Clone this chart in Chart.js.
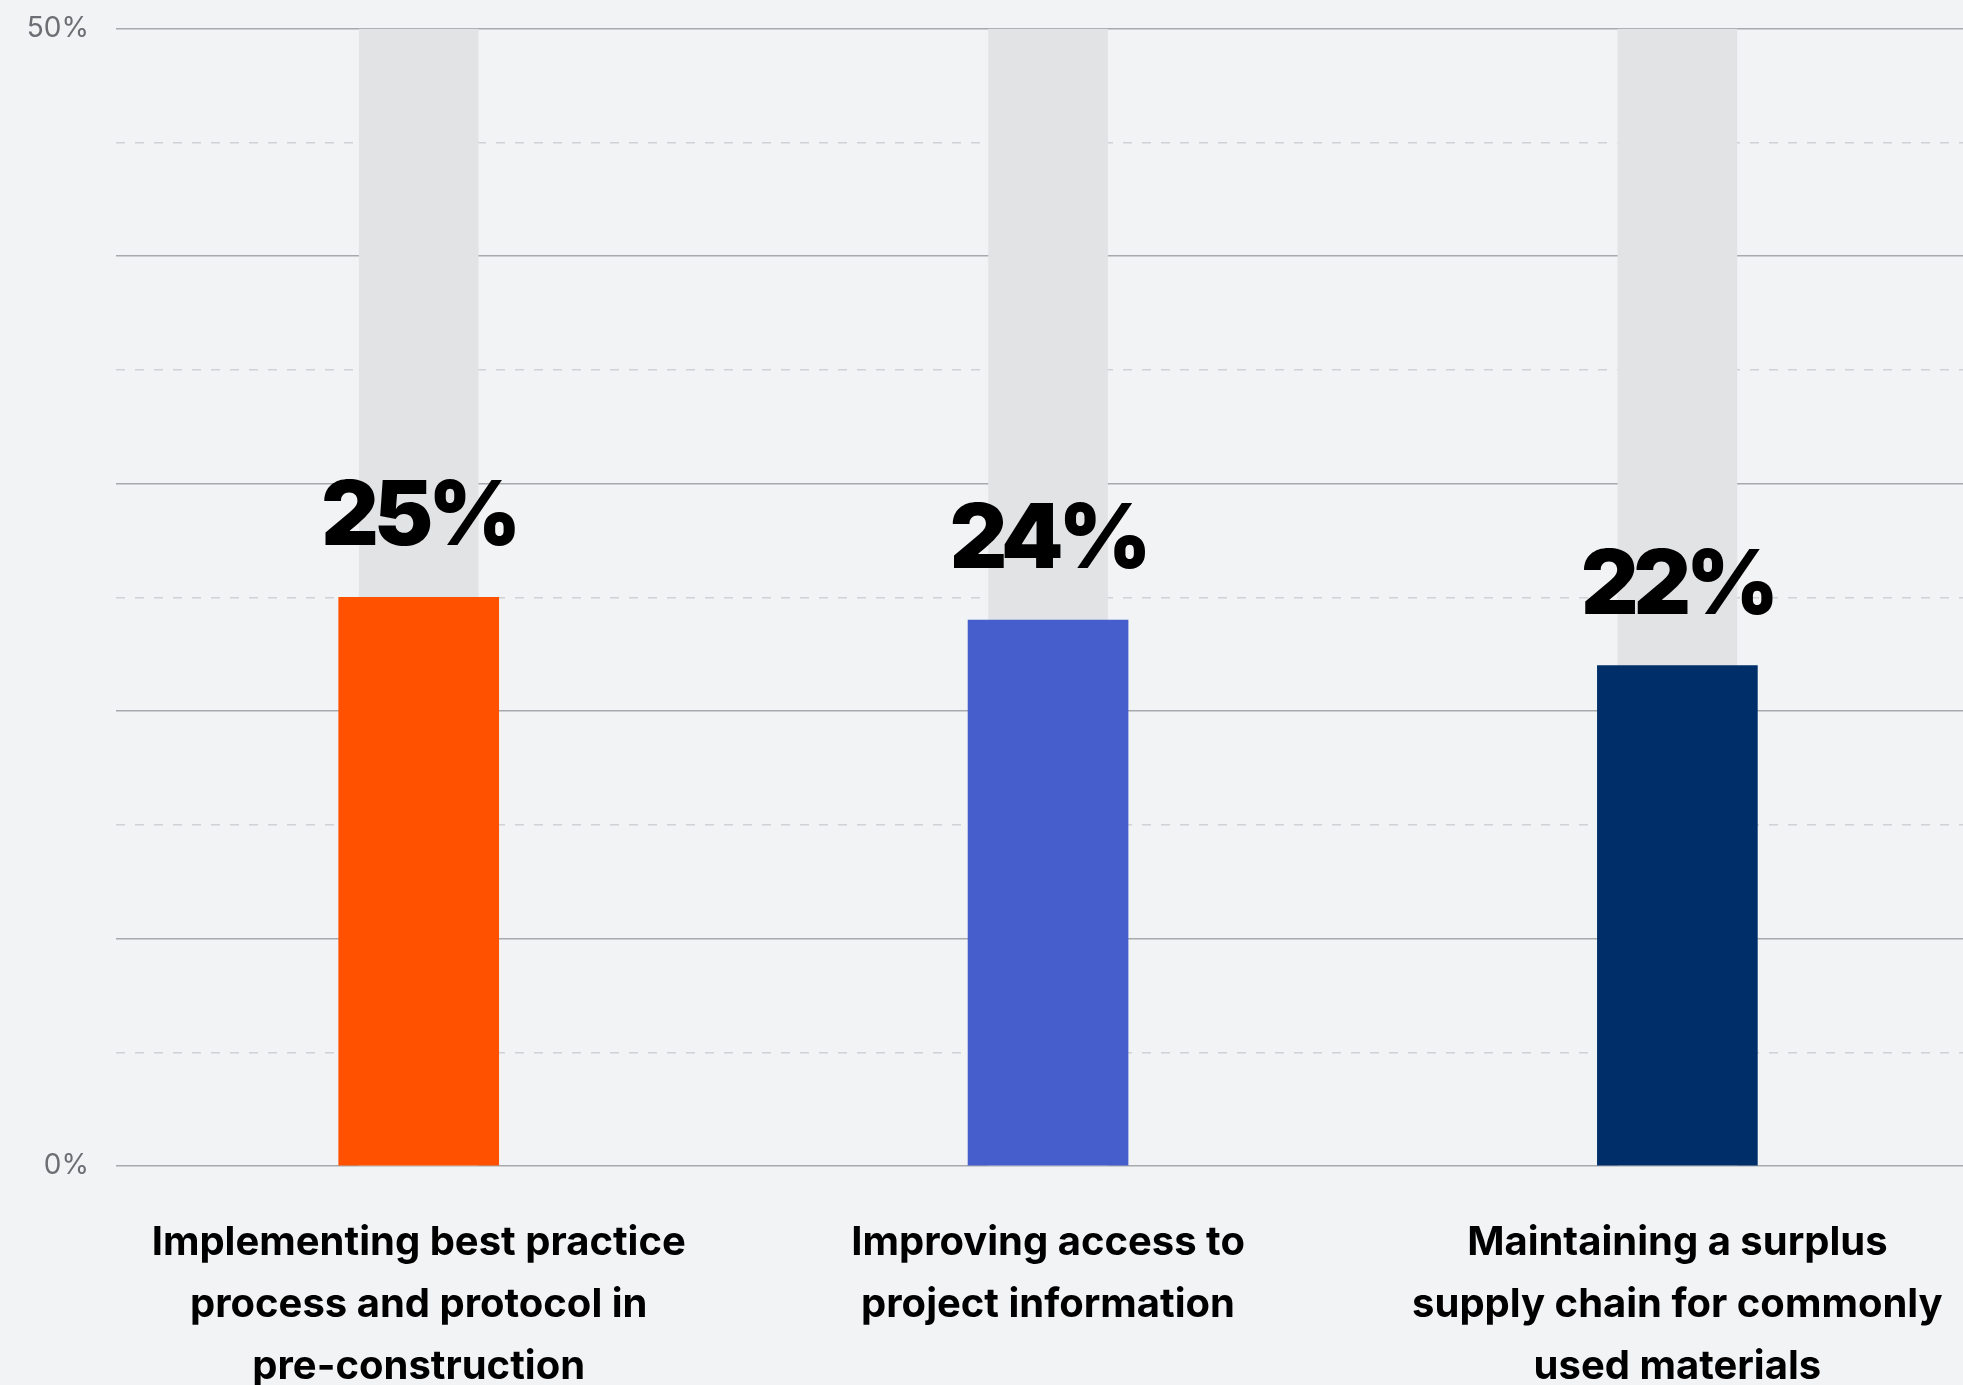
<!DOCTYPE html>
<html>
<head>
<meta charset="utf-8">
<script src="https://cdn.jsdelivr.net/npm/chart.js@4/dist/chart.umd.min.js"></script>
<style>
  html, body { margin: 0; padding: 0; overflow: hidden; background: #f2f3f5; }
  #wrap { position: absolute; left: 0; top: 0; }
</style>
</head>
<body>
<div id="wrap"><canvas id="chart" width="2004" height="1436"></canvas></div>
<script>
const categories = [
    ['Implementing best practice', 'process and protocol in', 'pre-construction'],
    ['Improving access to', 'project information'],
    ['Maintaining a surplus', 'supply chain for commonly', 'used materials']
];
const shares = [25, 24, 22];
const trackMax = [50, 50, 50];
const barColors = ['#ff5100', '#465ecb', '#002e69'];
const axisMin = 0;
const axisMax = 50;

// big percentage over each coloured bar
const valueLabels = {
    id: 'valueLabels',
    afterDatasetsDraw(chart) {
        const ctx = chart.ctx;
        const meta = chart.getDatasetMeta(0);
        ctx.save();
        ctx.font = '900 89px Inter, "Noto Sans", sans-serif';
        ctx.letterSpacing = '-5px';
        ctx.fillStyle = '#000';
        ctx.textAlign = 'center';
        ctx.textBaseline = 'alphabetic';
        meta.data.forEach(function (bar, i) {
            ctx.fillText(shares[i] + '%', bar.x, bar.y - 52);
        });
        ctx.restore();
    }
};

new Chart(document.getElementById('chart'), {
    type: 'bar',
    data: {
        labels: categories,
        datasets: [
            {
                label: 'Share',
                data: shares,
                backgroundColor: barColors,
                barThickness: 160,
                grouped: false,
                order: 0
            },
            {
                label: 'Track',
                data: trackMax,
                backgroundColor: '#e2e3e5',
                barThickness: 119,
                grouped: false,
                order: 1
            }
        ]
    },
    options: {
        responsive: false,
        devicePixelRatio: 1,
        animation: false,
        layout: { padding: 0 },
        plugins: {
            legend: { display: false },
            tooltip: { enabled: false }
        },
        scales: {
            x: {
                grid: { display: false },
                border: { display: false },
                ticks: {
                    padding: 38,
                    color: '#000',
                    font: { family: 'Inter, "Noto Sans", sans-serif', size: 40, weight: 700, lineHeight: 1.55 }
                },
                // categories sit slightly left of the grid start
                afterDataLimits: function (scale) { scale.min = 0.019; },
                afterBuildTicks: function (scale) {
                    scale.ticks = categories.map(function (c, i) { return { value: i }; });
                }
            },
            y: {
                min: axisMin,
                max: axisMax,
                border: { display: false },
                grid: {
                    color: '#a6a9ad',
                    lineWidth: 1.5,
                    drawTicks: true,
                    tickLength: 15,
                    tickColor: 'rgba(0,0,0,0)'
                },
                ticks: {
                    stepSize: 10,
                    padding: 12,
                    color: '#6b6e73',
                    font: { family: 'Inter, "Noto Sans", sans-serif', size: 28, weight: 400 },
                    callback: function (v) {
                        return (v === axisMin || v === axisMax) ? v + '%' : '';
                    }
                },
                afterFit: function (scale) { scale.width = 116; }
            },
            y2: {
                position: 'left',
                min: axisMin,
                max: axisMax,
                border: { display: false, dash: [9, 10] },
                grid: {
                    lineWidth: 1.5,
                    drawTicks: false,
                    color: function (c) {
                        return c.tick && c.tick.value % 10 !== 0 ? '#cfd1d5' : 'rgba(0,0,0,0)';
                    }
                },
                ticks: { stepSize: 5, display: false },
                afterFit: function (scale) { scale.width = 0; }
            }
        }
    },
    plugins: [valueLabels]
});
</script>
</body>
</html>
